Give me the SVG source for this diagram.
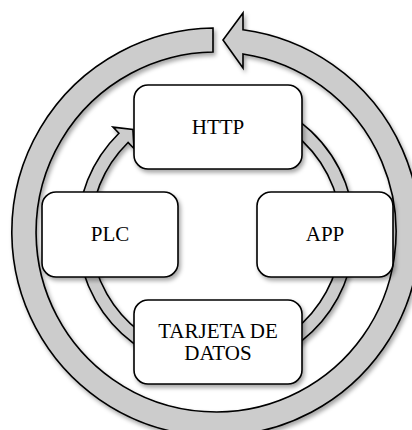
<svg xmlns="http://www.w3.org/2000/svg" width="412" height="430" viewBox="0 0 412 430">
<defs>
<filter id="sh" x="-10%" y="-10%" width="130%" height="130%">
<feDropShadow dx="2" dy="3" stdDeviation="2" flood-color="#000" flood-opacity="0.35"/>
</filter>
</defs>
<style>
.ring{fill:#cccccc;stroke:#000;stroke-width:1.6;stroke-linejoin:miter}
.box{fill:#fff;stroke:#000;stroke-width:1.6}
.lbl{font-family:"Liberation Serif","Times New Roman",serif;font-size:21px;fill:#000;text-anchor:middle}
</style>
<rect width="412" height="430" fill="#fff"/>
<g id="connectors">
<path class="ring" filter="url(#sh)" d="M213,28 A204,204 0 1 0 243,29.8 L243,13 L223,40 L243,68 L243,54 A180,180 0 1 1 213,52 Z"/>
<path class="ring" filter="url(#sh)" d="M263.37,101.85 A138.5,138.5 0 1 1 118.92,133.21 L112.97,127.14 L132.9,129.4 L134,148.54 L128.04,142.48 A125.5,125.5 0 1 0 258.92,114.07 Z"/>
</g>
<g id="node-http">
<rect class="box" filter="url(#sh)" x="134" y="85" width="168" height="84" rx="14"/>
<text class="lbl" x="218" y="134">HTTP</text>
</g>
<g id="node-plc">
<rect class="box" filter="url(#sh)" x="42" y="192" width="136" height="85" rx="14"/>
<text class="lbl" x="110" y="241">PLC</text>
</g>
<g id="node-app">
<rect class="box" filter="url(#sh)" x="257" y="192" width="136" height="85" rx="14"/>
<text class="lbl" x="325" y="241">APP</text>
</g>
<g id="node-tarjeta">
<rect class="box" filter="url(#sh)" x="134" y="300" width="168" height="84" rx="14"/>
<text class="lbl" x="218" y="338">TARJETA DE</text>
<text class="lbl" x="218" y="360">DATOS</text>
</g>
</svg>
